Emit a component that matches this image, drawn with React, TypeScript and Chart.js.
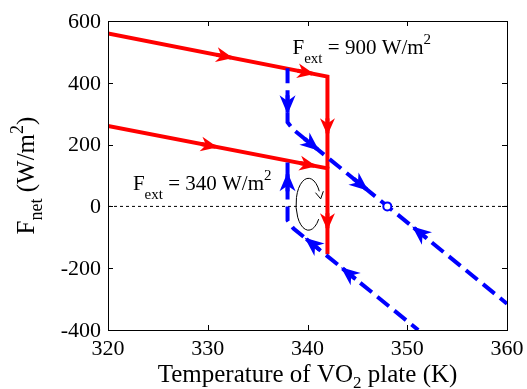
import React, { useEffect, useRef } from "react";
import { Chart, registerables } from "chart.js";

Chart.register(...registerables);

// ---- data ----
const xTicks = [320, 330, 340, 350, 360];
const yTicks = [-400, -200, 0, 200, 400, 600];

// red (heating) paths
const redHighT = [320, 342, 342];
const redHighF = [560, 420, 123];
const redLowT = [320, 342, 342];
const redLowF = [260, 123, -155];

// blue dashed (cooling) paths
const blueHighT = [338, 338, 338.6, 360];
const blueHighF = [447, 272, 248, -315];
const blueLowT = [338, 338, 338.6, 351.1];
const blueLowF = [142, -45, -72, -400];

// zero reference line
const zeroT = [320, 360];
const zeroF = [0, 0];

// equilibrium point
const eqT = [348];
const eqF = [0];

// arrows: dataset key, segment index, fraction along segment, reversed direction
const arrowSeries = ["redHigh", "redHigh", "redHigh", "redLow", "redLow", "redLow", "blueHigh", "blueHigh", "blueHigh", "blueHigh", "blueLow", "blueLow", "blueLow"];
const arrowSeg = [0, 0, 1, 0, 0, 1, 0, 2, 2, 2, 0, 2, 2];
const arrowFrac = [0.57, 0.94, 0.64, 0.5, 0.95, 0.72, 0.85, 0.12, 0.35, 0.556, 0.17, 0.09, 0.38];
const arrowRev = [false, false, false, false, false, false, false, false, false, true, true, true, true];

// circular hysteresis arrow (data units)
const loopCenter = [340.1, 7];
const loopRadius = [1.25, 84];

// annotations
const label900 = { T: 338.5, F: 494, main: "F", sub: "ext", rest: " = 900 W/m", sup: "2" };
const label340 = { T: 322.5, F: 52, main: "F", sub: "ext", rest: " = 340 W/m", sup: "2" };

const SERIF = "'Liberation Serif', 'Times New Roman', serif";
const RED = "#ff0000";
const BLUE = "#0000ff";

type Part = { t: string; s: number; dy?: number };

function drawRich(ctx: CanvasRenderingContext2D, parts: Part[], x: number, y: number, align: "left" | "center") {
  let total = 0;
  const widths = parts.map((p) => {
    ctx.font = `${p.s}px ${SERIF}`;
    const w = ctx.measureText(p.t).width;
    total += w;
    return w;
  });
  let cx = align === "center" ? x - total / 2 : x;
  ctx.textBaseline = "alphabetic";
  ctx.textAlign = "left";
  parts.forEach((p, i) => {
    ctx.font = `${p.s}px ${SERIF}`;
    ctx.fillText(p.t, cx, y + (p.dy || 0));
    cx += widths[i];
  });
}

const overlayPlugin = {
  id: "overlay",
  afterDatasetsDraw(chart: any) {
    const ctx: CanvasRenderingContext2D = chart.ctx;
    const xs = chart.scales.x;
    const ys = chart.scales.y;
    const series: Record<string, { T: number[]; F: number[]; color: string; L: number; W: number }> = {
      redHigh: { T: redHighT, F: redHighF, color: RED, L: 17, W: 7.5 },
      redLow: { T: redLowT, F: redLowF, color: RED, L: 17, W: 7.5 },
      blueHigh: { T: blueHighT, F: blueHighF, color: BLUE, L: 19, W: 8 },
      blueLow: { T: blueLowT, F: blueLowF, color: BLUE, L: 19, W: 8 },
    };
    ctx.save();
    // arrowheads
    arrowSeries.forEach((key, i) => {
      const s = series[key];
      const k = arrowSeg[i];
      const ax = xs.getPixelForValue(s.T[k]);
      const ay = ys.getPixelForValue(s.F[k]);
      const bx = xs.getPixelForValue(s.T[k + 1]);
      const by = ys.getPixelForValue(s.F[k + 1]);
      const f = arrowFrac[i];
      const px = ax + (bx - ax) * f;
      const py = ay + (by - ay) * f;
      let ux = bx - ax;
      let uy = by - ay;
      const len = Math.hypot(ux, uy);
      ux /= len;
      uy /= len;
      if (arrowRev[i]) {
        ux = -ux;
        uy = -uy;
      }
      const nx = -uy;
      const ny = ux;
      const L = s.L;
      const W = s.W;
      const N = L * 0.3;
      ctx.beginPath();
      ctx.moveTo(px, py);
      ctx.lineTo(px - L * ux + W * nx, py - L * uy + W * ny);
      ctx.lineTo(px - (L - N) * ux, py - (L - N) * uy);
      ctx.lineTo(px - L * ux - W * nx, py - L * uy - W * ny);
      ctx.closePath();
      ctx.fillStyle = s.color;
      ctx.fill();
      ctx.beginPath();
      ctx.moveTo(px - L * ux, py - L * uy);
      ctx.lineTo(px - 2 * ux, py - 2 * uy);
      ctx.strokeStyle = s.color;
      ctx.lineWidth = 4;
      ctx.stroke();
    });

    // circular arrow
    const cx = xs.getPixelForValue(loopCenter[0]);
    const cy = ys.getPixelForValue(loopCenter[1]);
    const rx = Math.abs(xs.getPixelForValue(loopCenter[0] + loopRadius[0]) - cx);
    const ry = Math.abs(ys.getPixelForValue(loopCenter[1] + loopRadius[1]) - cy);
    ctx.beginPath();
    ctx.ellipse(cx, cy, rx, ry, 0, (-30 * Math.PI) / 180, (35 * Math.PI) / 180, true);
    ctx.strokeStyle = "#000";
    ctx.lineWidth = 1;
    ctx.stroke();
    const a0 = (-30 * Math.PI) / 180;
    const a1 = (-12 * Math.PI) / 180;
    const tx = cx + rx * Math.cos(a1);
    const ty = cy + ry * Math.sin(a1);
    const sx = cx + rx * Math.cos(a0);
    const sy = cy + ry * Math.sin(a0);
    let dx = tx - sx;
    let dy = ty - sy;
    const dl = Math.hypot(dx, dy);
    dx /= dl;
    dy /= dl;
    const hl = 7;
    const hw = 4;
    ctx.beginPath();
    ctx.moveTo(tx - hl * dx - hw * dy, ty - hl * dy + hw * dx);
    ctx.lineTo(tx, ty);
    ctx.lineTo(tx - hl * dx + hw * dy, ty - hl * dy - hw * dx);
    ctx.stroke();

    // annotations
    ctx.fillStyle = "#000";
    [label900, label340].forEach((lb) => {
      drawRich(
        ctx,
        [
          { t: lb.main, s: 21 },
          { t: lb.sub, s: 15, dy: 9 },
          { t: lb.rest, s: 21 },
          { t: lb.sup, s: 15, dy: -10 },
        ],
        xs.getPixelForValue(lb.T),
        ys.getPixelForValue(lb.F),
        "left"
      );
    });

    // axes box and inward ticks
    const { left, right, top, bottom } = chart.chartArea;
    ctx.strokeStyle = "#000";
    ctx.lineWidth = 1;
    ctx.strokeRect(Math.round(left) + 0.5, Math.round(top) + 0.5, Math.round(right - left), Math.round(bottom - top));
    const tl = 5;
    ctx.beginPath();
    xTicks.forEach((v) => {
      const px = Math.round(xs.getPixelForValue(v)) + 0.5;
      ctx.moveTo(px, bottom);
      ctx.lineTo(px, bottom - tl);
      ctx.moveTo(px, top);
      ctx.lineTo(px, top + tl);
    });
    yTicks.forEach((v) => {
      const py = Math.round(ys.getPixelForValue(v)) + 0.5;
      ctx.moveTo(left, py);
      ctx.lineTo(left + tl, py);
      ctx.moveTo(right, py);
      ctx.lineTo(right - tl, py);
    });
    ctx.stroke();

    // tick labels
    ctx.fillStyle = "#000";
    ctx.font = `22px ${SERIF}`;
    ctx.textAlign = "center";
    ctx.textBaseline = "alphabetic";
    xTicks.forEach((v) => {
      ctx.fillText(String(v), xs.getPixelForValue(v), bottom + 25);
    });
    ctx.textAlign = "right";
    ctx.textBaseline = "middle";
    yTicks.forEach((v) => {
      ctx.fillText(String(v), left - 7, ys.getPixelForValue(v) + 1);
    });

    // axis titles
    drawRich(
      ctx,
      [
        { t: "Temperature of VO", s: 25 },
        { t: "2", s: 17, dy: 6 },
        { t: " plate (K)", s: 25 },
      ],
      (left + right) / 2,
      382,
      "center"
    );
    ctx.save();
    ctx.translate(34, (top + bottom) / 2);
    ctx.rotate(-Math.PI / 2);
    drawRich(
      ctx,
      [
        { t: "F", s: 25 },
        { t: "net", s: 18, dy: 8 },
        { t: " (W/m", s: 25 },
        { t: "2", s: 18, dy: -11 },
        { t: ")", s: 25 },
      ],
      0,
      0,
      "center"
    );
    ctx.restore();
    ctx.restore();
  },
};

function pts(T: number[], F: number[]) {
  return T.map((t, i) => ({ x: t, y: F[i] }));
}

export default function App() {
  const ref = useRef<HTMLCanvasElement>(null);
  useEffect(() => {
    if (!ref.current) return;
    const chart = new Chart(ref.current, {
      type: "scatter",
      data: {
        datasets: [
          { data: pts(eqT, eqF), showLine: false, pointRadius: 4, pointBackgroundColor: "#fff", pointBorderColor: BLUE, pointBorderWidth: 2, order: 0 },
          { data: pts(blueHighT, blueHighF), showLine: true, borderColor: BLUE, borderWidth: 4, borderDash: [15, 7], pointRadius: 0, order: 1 },
          { data: pts(blueLowT, blueLowF), showLine: true, borderColor: BLUE, borderWidth: 4, borderDash: [15, 7], pointRadius: 0, order: 1 },
          { data: pts(redHighT, redHighF), showLine: true, borderColor: RED, borderWidth: 4, pointRadius: 0, order: 2 },
          { data: pts(redLowT, redLowF), showLine: true, borderColor: RED, borderWidth: 4, pointRadius: 0, order: 2 },
          { data: pts(zeroT, zeroF), showLine: true, borderColor: "#000", borderWidth: 1, borderDash: [3, 3], pointRadius: 0, order: 5 },
        ],
      },
      options: {
        animation: false,
        responsive: false,
        events: [],
        layout: { padding: { left: 0, top: 21, right: 20, bottom: 0 } },
        plugins: { legend: { display: false }, tooltip: { enabled: false }, title: { display: false } },
        scales: {
          x: {
            type: "linear",
            min: 320,
            max: 360,
            afterFit: (s: any) => {
              s.height = 59;
            },
            afterBuildTicks: (s: any) => {
              s.ticks = xTicks.map((v) => ({ value: v }));
            },
            ticks: { display: false },
            grid: { display: false, drawTicks: false },
            border: { display: false },
          },
          y: {
            type: "linear",
            min: -400,
            max: 600,
            afterFit: (s: any) => {
              s.width = 108;
            },
            afterBuildTicks: (s: any) => {
              s.ticks = yTicks.map((v) => ({ value: v }));
            },
            ticks: { display: false },
            grid: { display: false, drawTicks: false },
            border: { display: false },
          },
        },
      },
      plugins: [overlayPlugin],
    });
    return () => chart.destroy();
  }, []);
  return (
    <div style={{ position: "fixed", left: 0, top: 0, width: 527, height: 389, background: "#fff" }}>
      <canvas ref={ref} width={527} height={389} style={{ width: 527, height: 389 }} />
    </div>
  );
}
